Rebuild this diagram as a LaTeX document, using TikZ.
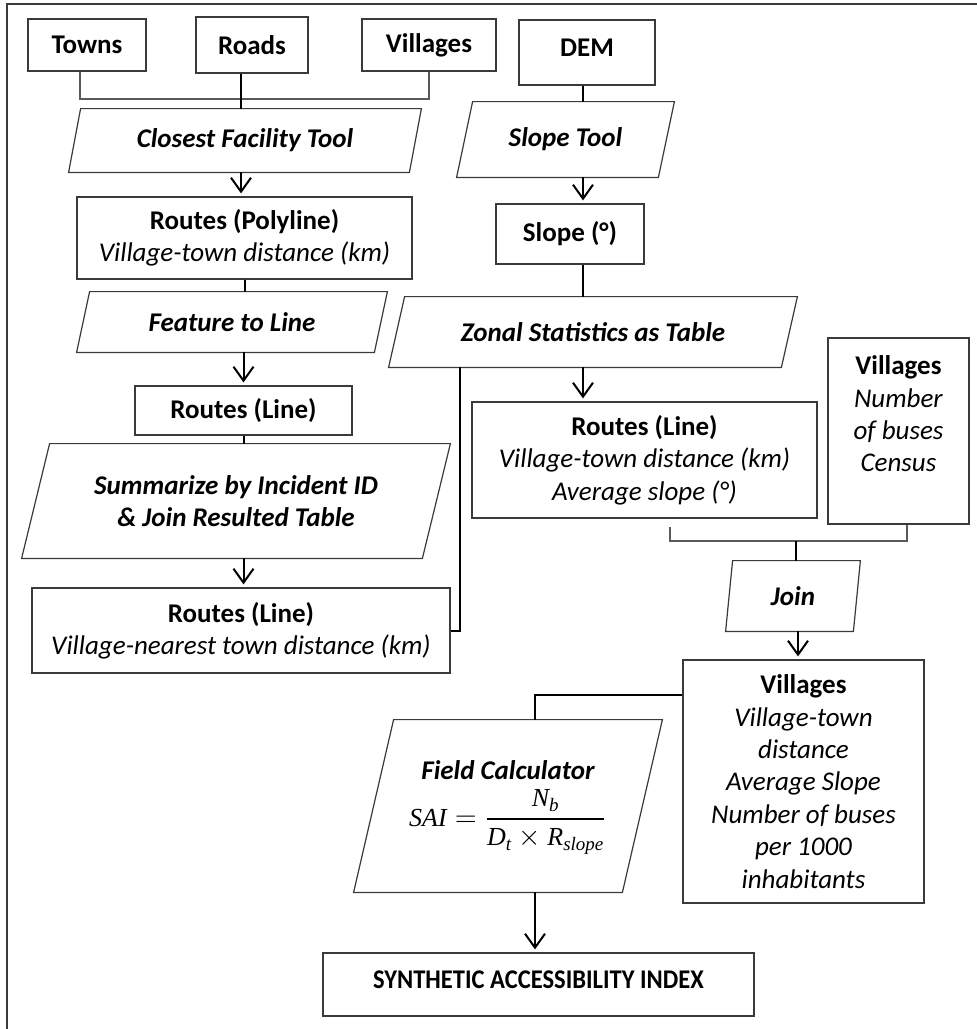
\documentclass[tikz,border=0pt]{standalone}
\usepackage{amsmath}
\usepackage{fontspec}
\setmainfont{Carlito}
\newfontfamily\tnr{Liberation Serif}
\usetikzlibrary{arrows.meta}
\definecolor{boxc}{HTML}{3A3A3A}
\definecolor{thinc}{HTML}{5A5A5A}
\newcommand\fs{\fontsize{13.5}{16.2}\selectfont}
\newcommand\tv[2]{\mbox{\fontsize{#1}{#1}\selectfont\tnr\itshape #2}}
\newcommand\paral[2]{\draw[boxline] ([shift={(#2,0)}]#1.north west) -- (#1.north east) -- ([shift={(-#2,0)}]#1.south east) -- (#1.south west) -- cycle;}
\tikzset{
  boxline/.style={draw=boxc, line width=0.6pt},
  box/.style={boxline, inner sep=0pt, align=center, font=\fs},
  para/.style={inner sep=0pt, align=center, font=\fs\bfseries\itshape},
  txt/.style={inner sep=0pt, align=center, font=\fs},
  conn/.style={draw=black, line width=1pt},
  thinl/.style={draw=thinc, line width=0.6pt},
  arr/.style={conn, shorten >=1.5pt, -{Straight Barb[length=7pt,width=10pt]}},
}
\begin{document}
\begin{tikzpicture}[x=0.5pt,y=-0.5pt]
\useasboundingbox (0,0) rectangle (977,1029);
\fill[white] (0,0) rectangle (977,1029);
% frame
\draw[boxline] (7,1040) -- (7,4) -- (990,4);

% top inputs
\node[box, font=\fs\bfseries, minimum width=59pt, minimum height=26pt] (towns) at (87,45) {Towns};
\node[box, font=\fs\bfseries, minimum width=56pt, minimum height=28pt] (roads) at (252,45) {Roads};
\node[box, font=\fs\bfseries, minimum width=67pt, minimum height=26pt] (villt) at (429,45) {Villages};
\node[box, minimum width=68pt, minimum height=32.5pt] (dem) at (587,52.5) {};
\node[txt, font=\fs\bfseries] (demtext) at (587,47.5) {DEM};

% left column
\node[para, minimum width=176pt, minimum height=31.5pt] (cft) at (245,140.5) {Closest Facility Tool};
\paral{cft}{12}
\node[box, minimum width=167.5pt, minimum height=41pt] (rpoly) at (244.5,238) {\textbf{Routes (Polyline)}\\\textit{Village-town distance (km)}};
\node[para, minimum width=155pt, minimum height=30pt] (ftl) at (232,322) {Feature to Line};
\paral{ftl}{13}
\node[box, font=\fs\bfseries, minimum width=108.5pt, minimum height=24.5pt] (rline1) at (243.5,410.5) {Routes (Line)};
\node[para, minimum width=214pt, minimum height=57pt] (summ) at (236,501) {Summarize by Incident ID\\\& Join Resulted Table};
\paral{summ}{28}
\node[box, minimum width=209pt, minimum height=42.5pt] (rline2) at (241,630.5) {\textbf{Routes (Line)}\\\textit{Village-nearest town distance (km)}};

% middle column
\node[para, minimum width=108.5pt, minimum height=37.5pt] (slopet) at (565.5,139.5) {Slope Tool};
\paral{slopet}{16}
\node[box, font=\fs\bfseries, minimum width=74pt, minimum height=30pt] (slopeo) at (570,234) {Slope (°)};
\node[para, minimum width=204pt, minimum height=35pt] (zonal) at (593,332) {Zonal Statistics as Table};
\paral{zonal}{16}
\node[box, minimum width=172.5pt, minimum height=58pt] (rline3) at (644.5,460) {\textbf{Routes (Line)}\\\textit{Village-town distance (km)}\\\textit{Average slope (°)}};
\node[box, minimum width=70.5pt, minimum height=93pt] (census) at (898.5,431) {};
\node[txt] (censustext) at (898.5,414) {\textbf{Villages}\\\textit{Number}\\\textit{of buses}\\\textit{Census}};
\node[para, minimum width=67pt, minimum height=35pt] (join) at (793,596) {Join};
\paral{join}{7}
\node[box, minimum width=120.5pt, minimum height=121.5pt] (vill2) at (803.5,781.5) {\textbf{Villages}\\\textit{Village-town}\\\textit{distance}\\\textit{Average Slope}\\\textit{Number of buses}\\\textit{per 1000}\\\textit{inhabitants}};

% field calculator
\node[para, minimum width=154pt, minimum height=86pt] (fc) at (508,806) {};
\paral{fc}{40}
\node[txt, font=\fs\bfseries\itshape] (fctitle) at (508,770) {Field Calculator};
\node[txt] (fcform) at (508,822) {$\tv{13}{SAI}=\dfrac{\tv{13}{N}_{\tv{9.5}{b}}}{\tv{13}{D}_{\tv{9.5}{t}}\times\tv{13}{R}_{\tv{9.5}{slope}}}$};

% result
\node[box, minimum width=215.5pt, minimum height=31.5pt] (sai) at (538.5,984.5) {};
\node[txt, font=\fs\bfseries] (saitext) at (538.5,979.5) {\scalebox{0.91}[1]{SYNTHETIC ACCESSIBILITY INDEX}};

% connectors
\coordinate (tx) at (80,0);
\coordinate (j1) at (241,99);
\draw[thinl] (towns.south -| tx) |- (j1);
\draw[thinl] (villt.south) |- (j1);
\draw[conn] (roads.south -| j1) -- (cft.north -| j1);
\draw[arr] (cft.south -| j1) -- (rpoly.north -| j1);
\draw[conn] (rpoly.south) -- (rpoly.south |- ftl.north);
\draw[arr] (ftl.south -| rline1.north) -- (rline1.north);
\draw[conn] (rline1.south) -- (rline1.south |- summ.north);
\draw[arr] (rline1.south |- summ.south) -- (rline1.south |- rline2.north);
\coordinate (zx) at (460,0);
\draw[conn] (rline2.east) -| (zonal.south -| zx);

\coordinate (sx) at (583,0);
\draw[conn] (dem.south -| sx) -- (slopet.north -| sx);
\draw[arr] (slopet.south -| sx) -- (slopeo.north -| sx);
\draw[conn] (slopeo.south -| sx) -- (zonal.north -| sx);
\draw[arr] (zonal.south -| sx) -- (rline3.north -| sx);

\coordinate (j2) at (796,541);
\draw[thinl] ([shift={(25.5,8)}]rline3.south) |- (j2);
\draw[thinl] ([shift={(8.5,0)}]census.south) |- (j2);
\draw[conn] (j2) -- (join.north -| j2);
\coordinate (vx) at (798,0);
\draw[arr] (join.south -| vx) -- (vill2.north -| vx);
\coordinate (fx) at (535,0);
\draw[conn] ([shift={(0,36)}]vill2.north west) -| (fc.north -| fx);
\draw[arr] (fc.south -| fx) -- (sai.north -| fx);
\end{tikzpicture}
\end{document}
